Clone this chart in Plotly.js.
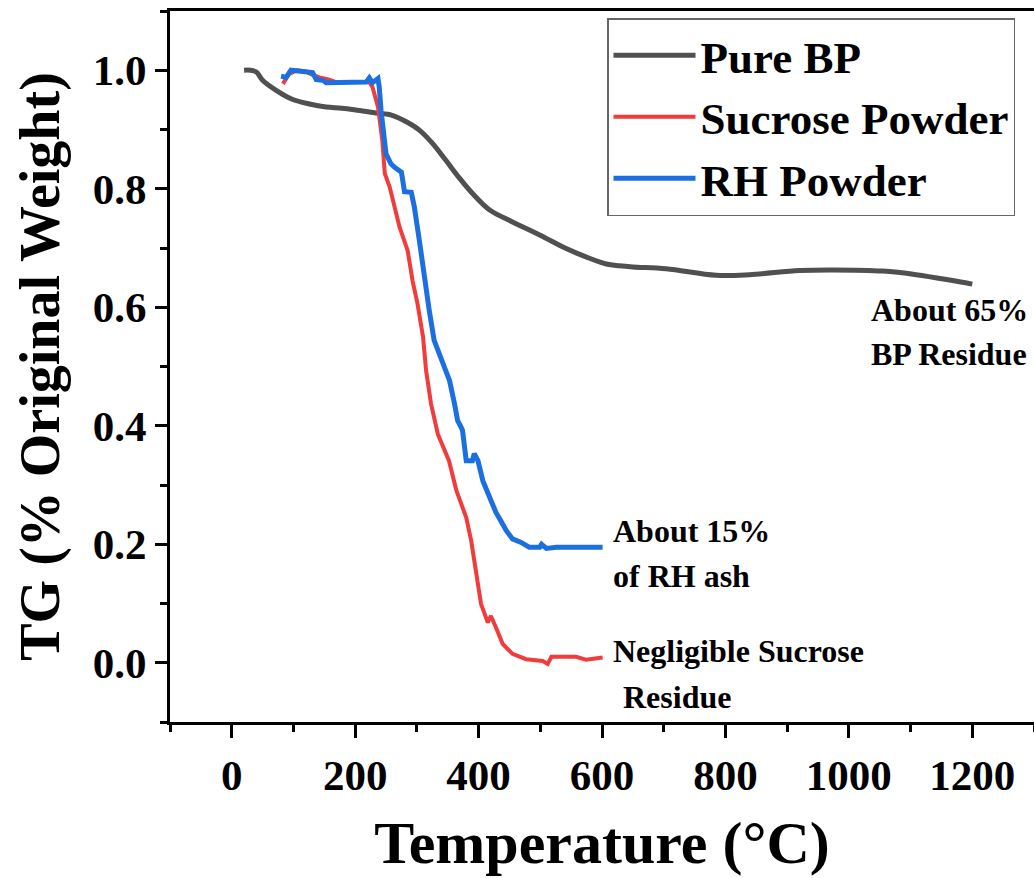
<!DOCTYPE html>
<html>
<head>
<meta charset="utf-8">
<script src="https://cdn.plot.ly/plotly-3.0.1.min.js"></script>
<style>html,body{margin:0;padding:0;background:#fff;}#chart{width:1034px;height:878px;}</style>
</head>
<body>
<div id="chart"></div>
<script>
// ---- Data ----
const seriesNames = ["Pure BP", "Sucrose Powder", "RH Powder"];

const bpTemp = [20, 30, 40, 50, 72, 98, 126, 153, 179, 207, 234, 260, 283, 304, 325, 347, 369, 391, 418, 455, 499, 542, 574, 607, 628, 650, 704, 785, 839, 920, 974, 1055, 1109, 1163, 1200];
const bpWeight = [1.000, 1.000, 0.997, 0.983, 0.966, 0.951, 0.943, 0.938, 0.936, 0.932, 0.928, 0.924, 0.913, 0.899, 0.877, 0.848, 0.818, 0.791, 0.764, 0.744, 0.722, 0.699, 0.685, 0.673, 0.670, 0.668, 0.665, 0.654, 0.655, 0.662, 0.663, 0.661, 0.655, 0.646, 0.639];

const sucroseTemp = [83, 93, 106, 120, 131, 142, 158, 169, 200, 223, 228, 237, 244, 248, 256, 264, 272, 285, 293, 301, 310, 315, 323, 334, 345, 352, 364, 380, 388, 396, 404, 415, 420, 428, 439, 455, 477, 504, 512, 518, 558, 574, 601];
const sucroseWeight = [0.977, 0.994, 1.000, 0.998, 0.992, 0.988, 0.984, 0.980, 0.980, 0.980, 0.972, 0.938, 0.882, 0.826, 0.803, 0.769, 0.735, 0.696, 0.645, 0.606, 0.550, 0.493, 0.437, 0.386, 0.358, 0.341, 0.291, 0.245, 0.206, 0.150, 0.099, 0.068, 0.079, 0.060, 0.032, 0.015, 0.006, 0.003, -0.002, 0.010, 0.010, 0.005, 0.009];

const rhTemp = [80, 88, 96, 115, 131, 137, 148, 153, 218, 223, 228, 237, 239, 242, 247, 250, 258, 264, 275, 280, 291, 296, 304, 312, 320, 328, 342, 353, 361, 366, 372, 374, 380, 390, 393, 399, 407, 418, 428, 439, 445, 455, 469, 482, 499, 502, 510, 526, 601];
const rhWeight = [0.990, 0.988, 1.000, 0.997, 0.996, 0.984, 0.983, 0.979, 0.980, 0.987, 0.979, 0.986, 0.972, 0.932, 0.893, 0.859, 0.842, 0.836, 0.828, 0.795, 0.794, 0.769, 0.713, 0.651, 0.595, 0.544, 0.505, 0.476, 0.437, 0.409, 0.397, 0.392, 0.341, 0.341, 0.353, 0.341, 0.307, 0.279, 0.254, 0.234, 0.223, 0.209, 0.203, 0.195, 0.195, 0.200, 0.193, 0.195, 0.195];

const xTickVals = [0, 200, 400, 600, 800, 1000, 1200];
const yTickVals = [0.0, 0.2, 0.4, 0.6, 0.8, 1.0];

const noteTexts = ["About 65%", "BP Residue", "About 15%", "of RH ash", "Negligible Sucrose", "Residue"];
const noteX = [1033, 1033, 615, 615, 615, 631];
const noteY = [0.595, 0.521, 0.222, 0.146, 0.019, -0.058];

// ---- Styling ----
const FONT = "Liberation Serif, 'Times New Roman', Times, serif";
const colors = ["#505050", "#F03C3C", "#1B6FE0"];
const widths = [5, 4, 5];

const traces = [
  {x: bpTemp, y: bpWeight},
  {x: sucroseTemp, y: sucroseWeight},
  {x: rhTemp, y: rhWeight}
].map((t, i) => ({
  type: "scatter", mode: "lines", name: seriesNames[i],
  x: t.x, y: t.y,
  line: {color: colors[i], width: widths[i], shape: i === 0 ? "spline" : "linear"}
}));

const annotations = noteTexts.map((txt, i) => ({
  text: txt, x: noteX[i], y: noteY[i], xref: "x", yref: "y",
  xanchor: "left", yanchor: "middle", showarrow: false,
  font: {family: FONT, size: 32, color: "#000", weight: 700}
}));

const layout = {
  width: 1034, height: 878,
  margin: {l: 170, r: 0, t: 11, b: 156, pad: 0},
  paper_bgcolor: "#fff", plot_bgcolor: "#fff",
  font: {family: FONT, color: "#000", weight: 700},
  showlegend: true,
  legend: {
    x: 0.5058, y: 0.99, xanchor: "left", yanchor: "top",
    bgcolor: "#fff", bordercolor: "#666", borderwidth: 1.5,
    itemwidth: 82, font: {family: FONT, size: 45, color: "#000", weight: 700},
    tracegroupgap: 0
  },
  xaxis: {
    range: [-100, 1300], tickmode: "array", tickvals: xTickVals,
    ticktext: xTickVals.map(String),
    showgrid: false, zeroline: false,
    showline: true, linecolor: "#000", linewidth: 3, mirror: true,
    ticks: "outside", ticklen: 13, tickwidth: 3, tickcolor: "#000",
    minor: {dtick: 100, tick0: 0, ticks: "outside", ticklen: 7, tickwidth: 3, tickcolor: "#000", showgrid: false},
    tickfont: {family: FONT, size: 43, color: "#000", weight: 700},
    title: {text: "Temperature (°C)", font: {family: FONT, size: 60, color: "#000", weight: 700}, standoff: 24},
    automargin: false
  },
  yaxis: {
    range: [-0.1, 1.1], tickmode: "array", tickvals: yTickVals,
    ticktext: yTickVals.map(v => v.toFixed(1)),
    showgrid: false, zeroline: false,
    showline: true, linecolor: "#000", linewidth: 3, mirror: false,
    ticks: "outside", ticklen: 12, tickwidth: 3, tickcolor: "#000",
    minor: {dtick: 0.1, tick0: 0, ticks: "outside", ticklen: 7, tickwidth: 3, tickcolor: "#000", showgrid: false},
    tickfont: {family: FONT, size: 43, color: "#000", weight: 700},
    title: {text: "TG (% Original Weight)", font: {family: FONT, size: 56, color: "#000", weight: 700}, standoff: 16},
    automargin: false
  },
  annotations: annotations
};

Plotly.newPlot("chart", traces, layout, {displayModeBar: false, staticPlot: true});
</script>
</body>
</html>
